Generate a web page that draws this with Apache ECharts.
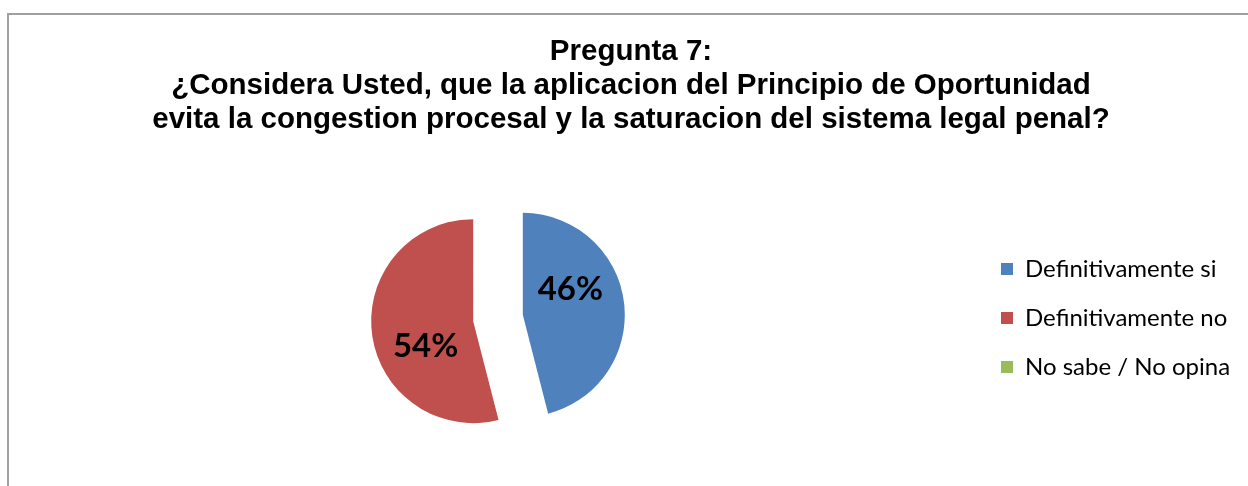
<!DOCTYPE html>
<html>
<head>
<meta charset="utf-8">
<script src="https://cdn.jsdelivr.net/npm/echarts@6/dist/echarts.min.js"></script>
<style>
  html, body { margin: 0; padding: 0; background: #fff; }
  #chart { width: 1248px; height: 486px; }
</style>
</head>
<body>
<div id="chart"></div>
<script>
// datos de la pregunta 7
const categories = ['Definitivamente si', 'Definitivamente no', 'No sabe / No opina'];
const values = [46, 54, 0];
const colors = ['#4F81BD', '#C0504D', '#9BBB59'];
const titleLines = [
  'Pregunta 7:',
  '¿Considera Usted, que la aplicacion del Principio de Oportunidad',
  'evita la congestion procesal y la saturacion del sistema legal penal?'
];

// desplazamiento de la etiqueta interior por porción (como en el original)
const labelShift = [[-6, -19], [6, 18], [0, 0]];

const myChart = echarts.init(document.getElementById('chart'));

const option = {
  animation: false,
  title: {
    text: titleLines.join('\n'),
    left: 626,
    top: 30,
    textAlign: 'center',
    padding: 5,
    textStyle: {
      fontFamily: 'Liberation Sans',
      fontWeight: 'bold',
      fontSize: 29.5,
      lineHeight: 34,
      color: '#000'
    }
  },
  graphic: [{
    type: 'rect',
    silent: true,
    shape: { x: 8, y: 14, width: 1400, height: 600 },
    style: { fill: 'none', stroke: '#a0a0a0', lineWidth: 2 }
  }],
  legend: {
    orient: 'vertical',
    left: 996,
    top: 252,
    itemWidth: 12,
    itemHeight: 12,
    itemGap: 25,
    icon: 'rect',
    textStyle: {
      fontFamily: 'Lato',
      fontSize: 24,
      lineHeight: 24,
      padding: [0, 0, 0, 7],
      color: '#000'
    },
    data: categories
  },
  series: [{
    type: 'pie',
    center: [498, 318],
    radius: 102,
    startAngle: 90,
    selectedMode: 'multiple',
    selectedOffset: 25,
    emphasis: { disabled: true },
    label: {
      position: 'inside',
      fontFamily: 'Lato',
      fontWeight: 'bold',
      fontSize: 33,
      color: '#000',
      formatter: p => p.value > 0 ? p.percent.toFixed(0) + '%' : ''
    },
    labelLayout: p => ({ dx: labelShift[p.dataIndex][0], dy: labelShift[p.dataIndex][1] }),
    labelLine: { show: false },
    data: categories.map((name, i) => ({
      name: name,
      value: values[i],
      selected: true,
      itemStyle: { color: colors[i] },
      select: { itemStyle: { color: colors[i] } }
    }))
  }]
};

myChart.setOption(option);
</script>
</body>
</html>
